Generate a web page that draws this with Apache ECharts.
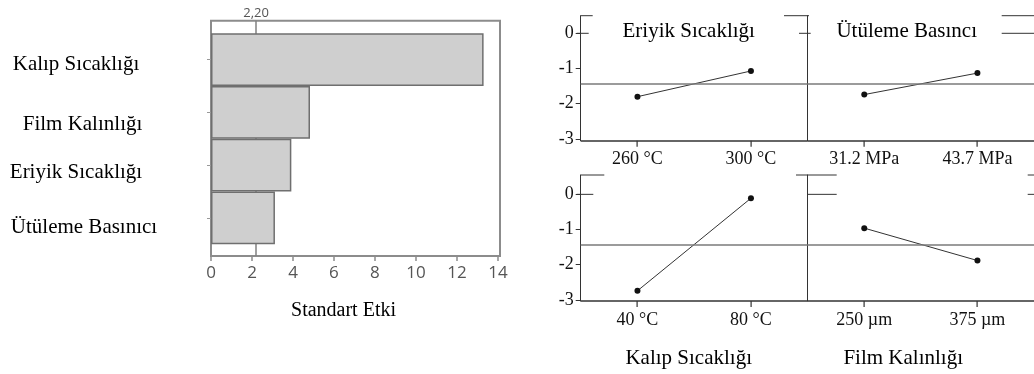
<!DOCTYPE html>
<html>
<head>
<meta charset="utf-8">
<script src="https://cdn.jsdelivr.net/npm/echarts@6/dist/echarts.min.js"></script>
<style>
  html, body { margin: 0; padding: 0; background: #fff; }
  #c { width: 1034px; height: 374px; }
</style>
</head>
<body>
<div id="c"></div>
<script>
// Pareto chart of standardized effects
const effectNames = ['Kalıp Sıcaklığı', 'Film Kalınlığı', 'Eriyik Sıcaklığı', 'Ütüleme Basınıcı'];
const effectValues = [13.3, 4.83, 3.92, 3.12];
const criticalValue = 2.20;
const effectTicks = [0, 2, 4, 6, 8, 10, 12, 14];

// Main effects plot: one panel per factor, two levels each
const factorTitles = ['Eriyik Sıcaklığı', 'Ütüleme Basıncı', 'Kalıp Sıcaklığı', 'Film Kalınlığı'];
const factorLevels = [['260 °C', '300 °C'], ['31.2 MPa', '43.7 MPa'], ['40 °C', '80 °C'], ['250 µm', '375 µm']];
const factorMeans = [[-1.80, -1.07], [-1.74, -1.13], [-2.74, -0.11], [-0.96, -1.88]];
const grandMean = -1.44;

const SERIF = '"Liberation Serif", "Times New Roman", serif';
const SANS = '"Open Sans", "DejaVu Sans", sans-serif';

// layout of the 2x2 panel block
const PX0 = 580.7, PW = 227;
const ROWS = [
  { top: 15.7, h: 125, min: -3.05, max: 0.50, titleY: 31 },
  { top: 175, h: 126, min: -3.03, max: 0.55, titleY: 358 }
];
// horizontal nudges of the panel titles, left and right column
const titleNudge = [-5.5, -18];

const chart = echarts.init(document.getElementById('c'));

// per-label padding [top, right, bottom, left] of the pareto category names
const labelPad = [[10, 8, 0, 0], [25, 0, 0, 5], [14, 8, 0, 0], [20, 0, 0, 8]];
const rich = {};
labelPad.forEach((p, i) => {
  rich['r' + i] = { fontFamily: SERIF, fontSize: 21, color: '#000', padding: p };
});

const grids = [
  { left: 211, top: 20.7, width: 289, height: 235.3, show: true, borderColor: '#8c8c8c', borderWidth: 2, backgroundColor: 'transparent' },
  { left: 211, top: 33.3, width: 289, height: 211 }
];
const xAxes = [
  {
    gridIndex: 0, type: 'value', min: 0, max: 14.1,
    axisLine: { show: true, onZero: false, lineStyle: { color: '#8c8c8c', width: 2 } },
    axisTick: { show: true, customValues: effectTicks, length: 5, lineStyle: { color: '#8c8c8c', width: 1.5 } },
    axisLabel: { customValues: effectTicks, fontFamily: SANS, fontSize: 17, color: '#555', margin: 9 },
    splitLine: { show: false },
    name: 'Standart Etki', nameLocation: 'middle', nameGap: 45,
    nameTextStyle: { fontFamily: SERIF, fontSize: 20, color: '#000', padding: [0, 24, 0, 0] }
  },
  { gridIndex: 1, type: 'value', min: 0, max: 14.1, show: false }
];
const yAxes = [
  { gridIndex: 0, type: 'value', min: 0, max: 1, show: false },
  {
    gridIndex: 1, type: 'category', data: effectNames, inverse: true,
    axisLine: { show: false },
    axisTick: { show: true, alignWithLabel: true, length: 4, lineStyle: { color: '#999' } },
    axisLabel: {
      margin: 131, align: 'center',
      formatter: (v, i) => '{r' + i + '|' + v + '}',
      rich: rich
    },
    splitLine: { show: false }
  }
];
const series = [
  {
    type: 'line', xAxisIndex: 0, yAxisIndex: 0, data: [], z: 1,
    markLine: {
      silent: true, symbol: 'none', animation: false, z: 1,
      lineStyle: { color: '#808080', width: 1.5, type: 'solid' },
      label: {
        show: true, position: 'end', distance: 1,
        formatter: () => criticalValue.toFixed(2).replace('.', ','),
        fontFamily: SANS, fontSize: 13, color: '#555'
      },
      data: [{ xAxis: criticalValue }]
    }
  },
  {
    type: 'bar', xAxisIndex: 1, yAxisIndex: 1, data: effectValues, z: 3,
    barCategoryGap: '0%',
    itemStyle: { color: '#cfcfcf', borderColor: '#6f6f6f', borderWidth: 1.5 },
    animation: false
  }
];

factorTitles.forEach((t, i) => {
  const col = i % 2, row = Math.floor(i / 2), R = ROWS[row];
  const gi = grids.length;
  grids.push({ left: PX0 + col * PW, top: R.top, width: PW, height: R.h });
  xAxes.push({
    gridIndex: gi, type: 'category', position: 'bottom', data: factorLevels[i], boundaryGap: true,
    axisLine: { show: false, onZero: false },
    axisTick: { show: false },
    axisLabel: { fontFamily: SERIF, fontSize: 18, color: '#111', margin: 10 }
  });
  yAxes.push({
    gridIndex: gi, type: 'value', min: R.min, max: R.max,
    axisLine: { show: true, onZero: false, lineStyle: { color: '#333', width: 1 } },
    axisTick: { show: col === 0, length: 5, lineStyle: { color: '#333' } },
    axisLabel: {
      show: col === 0, showMinLabel: false, showMaxLabel: false,
      formatter: v => (Number.isInteger(v) ? String(v) : ''),
      fontFamily: SERIF, fontSize: 18, color: '#111', margin: 7
    },
    splitLine: { show: false }
  });
  series.push({
    type: 'line', xAxisIndex: gi, yAxisIndex: gi, data: factorMeans[i],
    symbol: 'circle', symbolSize: 6, animation: false,
    itemStyle: { color: '#111' },
    lineStyle: { color: '#333', width: 1 },
    markLine: {
      silent: true, symbol: 'none', animation: false,
      label: { show: false },
      data: [
        { yAxis: grandMean, lineStyle: { color: '#7a7a7a', width: 1.5, type: 'solid' } },
        // bottom edge of the panel (level axis)
        { yAxis: R.min, lineStyle: { color: '#333', width: 1.5, type: 'solid' } }
      ]
    }
  });
});

chart.setOption({
  animation: false,
  backgroundColor: '#fff',
  grid: grids,
  xAxis: xAxes,
  yAxis: yAxes,
  series: series
});

const graphics = [];
const hline = (x1, x2, y) => graphics.push({
  type: 'line', silent: true, z: 100,
  shape: { x1: x1, y1: y, x2: x2, y2: y },
  style: { stroke: '#333', lineWidth: 1 }
});

// tick marks at the level positions of each panel
factorTitles.forEach((t, i) => {
  const row = Math.floor(i / 2), gi = 2 + i;
  const yBottom = chart.convertToPixel({ yAxisIndex: gi }, ROWS[row].min);
  factorLevels[i].forEach((lv, j) => {
    const x = chart.convertToPixel({ xAxisIndex: gi }, j);
    graphics.push({
      type: 'rect', silent: true, z: 100,
      shape: { x: Math.round(x) - 0.5, y: yBottom, width: 1.2, height: 6 },
      style: { fill: '#333' }
    });
  });
});

// header strips of the panels
const stripSegs = [
  { top: [[0, 12], [203.3, 228.3], [421, 454]], zero: [[-4, 8], [218.3, 230], [421, 454]] },
  { top: [[0, 23.6], [215.3, 256], [447, 454]], zero: [[-4, 12.6], [227, 256], [447, 454]] }
];
ROWS.forEach((R, r) => {
  const yZero = chart.convertToPixel({ yAxisIndex: 2 + r * 2 }, 0);
  [['top', R.top], ['zero', yZero]].forEach(([k, y]) => {
    stripSegs[r][k].forEach(s => hline(PX0 + s[0], PX0 + s[1], y));
  });
});

// panel titles
factorTitles.forEach((t, i) => {
  const col = i % 2, row = Math.floor(i / 2);
  graphics.push({
    type: 'text', silent: true,
    x: PX0 + col * PW + PW / 2 + titleNudge[col] + (row === 0 && col === 1 ? 3.5 : 0),
    y: ROWS[row].titleY,
    style: {
      text: t, fontFamily: SERIF, fontSize: 21, fill: '#000',
      textAlign: 'center', textVerticalAlign: 'middle'
    }
  });
});
chart.setOption({ graphic: graphics });
</script>
</body>
</html>
